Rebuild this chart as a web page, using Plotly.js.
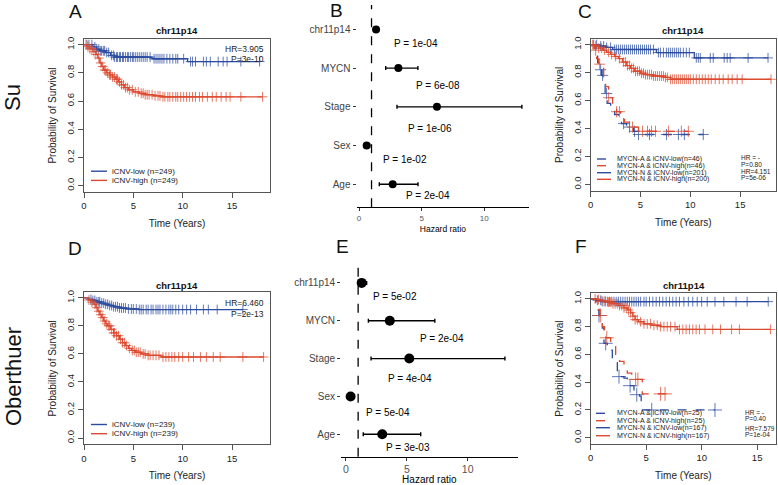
<!DOCTYPE html>
<html>
<head>
<meta charset="utf-8">
<script src="https://cdn.plot.ly/plotly-3.0.1.min.js"></script>
<style>
  html, body { margin: 0; padding: 0; background: #fff; }
  #plot { width: 778px; height: 485px; }
</style>
</head>
<body>
<div id="plot"></div>
<script>
// ---- Kaplan-Meier curves: step times / survival, plus censoring times ----
// panel A (Su)
const aLowT = [0, 0.9, 1.3, 1.6, 2.2, 2.7, 3.1, 6.9, 10.5];
const aLowS = [1, 0.984, 0.968, 0.956, 0.944, 0.924, 0.912, 0.9, 0.88];
const aLowCens = [0.3,0.5,0.8,1.1,1.3,1.5,1.7,1.8,2.0,2.1,2.3,2.5,2.8,3.0,3.1,3.3,3.4,3.6,3.7,3.9,4.0,4.2,4.4,4.5,4.7,4.9,5.0,5.2,5.4,5.6,5.8,6.0,6.2,6.4,6.7,7.1,7.3,7.5,7.7,7.9,8.1,8.4,8.7,9.0,9.3,9.5,10.1,10.8,11.0,11.3,12.1,12.4,12.8,13.6,14.1,14.5,15.9,17.8];
const aHighT = [0, 0.3, 0.6, 0.9, 1.2, 1.4, 1.6, 1.8, 2.0, 2.3, 2.6, 2.9, 3.2, 3.5, 3.8, 4.1, 4.5, 5.0, 5.6, 6.2, 7.0, 7.8];
const aHighS = [1, 0.985, 0.97, 0.95, 0.93, 0.905, 0.87, 0.845, 0.82, 0.8, 0.785, 0.77, 0.755, 0.735, 0.715, 0.695, 0.68, 0.665, 0.655, 0.645, 0.637, 0.63];
const aHighCens = [0.2,0.4,0.6,0.8,1.0,1.2,1.5,1.7,1.9,2.1,2.2,2.4,2.6,2.7,2.9,3.1,3.3,3.4,3.6,3.8,4.0,4.2,4.4,4.6,4.9,5.2,5.5,5.8,6.0,6.2,6.4,6.6,6.9,7.2,7.5,7.7,8.0,8.2,8.5,8.7,9.0,9.3,9.5,9.8,10.1,10.4,10.7,11.0,11.3,11.7,12.0,12.5,13.0,13.4,13.9,14.4,14.8,15.9,18.1];

// panel C (Su, split by MYCN)
const cALowT = [0, 0.5, 0.7, 0.9, 1.1, 1.25, 1.45, 1.65, 2.0, 2.4, 2.8, 3.1, 3.6, 4.3, 4.8];
const cALowS = [1, 0.935, 0.87, 0.82, 0.78, 0.74, 0.65, 0.58, 0.545, 0.5, 0.465, 0.435, 0.41, 0.38, 0.357];
const cALowCens = [1.0, 1.2, 1.6, 3.3, 3.9, 4.4, 4.8, 5.9, 7.6, 8.8, 9.4, 11.3];
const cAHighT = [0, 0.4, 0.6, 0.8, 1.0, 1.3, 1.5, 1.8, 2.2, 2.6, 3.0, 3.4, 4.0, 4.8];
const cAHighS = [1, 0.96, 0.9, 0.86, 0.83, 0.77, 0.7, 0.62, 0.57, 0.52, 0.48, 0.445, 0.41, 0.38];
const cAHighCens = [0.5, 0.9, 1.8, 2.6, 2.9, 4.2, 5.2, 5.7, 6.1, 6.5, 7.8, 9.1, 9.8];
const cNLowT = [0, 0.8, 1.5, 2.2, 6.6, 10.4];
const cNLowS = [1, 0.99, 0.98, 0.965, 0.943, 0.905];
const cNLowCens = [0.3,0.6,1.0,1.3,1.6,2.0,2.4,2.6,2.8,3.0,3.2,3.4,3.6,3.8,4.0,4.2,4.4,4.6,4.8,5.0,5.2,5.4,5.6,5.8,6.0,6.3,6.8,7.0,7.3,7.6,7.8,8.0,8.2,8.4,8.6,8.8,9.0,9.3,9.6,9.9,10.6,10.8,11.0,12.0,12.3,13.4,13.7,14.0,15.8,17.8];
const cNHighT = [0, 0.4, 0.8, 1.2, 1.6, 2.0, 2.4, 2.8, 3.2, 3.6, 4.0, 4.4, 5.0, 5.5, 6.2, 7.5, 8.0];
const cNHighS = [1, 0.99, 0.975, 0.96, 0.945, 0.93, 0.915, 0.9, 0.875, 0.85, 0.83, 0.81, 0.795, 0.785, 0.775, 0.765, 0.752];
const cNHighCens = [0.2,0.5,0.8,1.1,1.4,1.8,2.1,2.5,2.9,3.3,3.5,3.7,3.9,4.1,4.3,4.5,4.7,4.9,5.1,5.3,5.5,5.7,5.9,6.1,6.3,6.5,6.7,6.9,7.1,7.3,7.5,7.7,8.0,8.2,8.4,8.6,8.8,9.0,9.2,9.4,9.6,9.8,10.0,10.3,10.6,10.9,11.2,11.5,11.8,12.1,12.5,12.9,13.3,13.8,14.2,14.7,15.2,18.1];

// panel D (Oberthuer)
const dLowT = [0, 0.5, 0.9, 1.3, 1.7, 2.1, 2.5, 3.0, 3.6, 4.3, 5.5];
const dLowS = [1, 0.99, 0.982, 0.972, 0.963, 0.955, 0.946, 0.937, 0.928, 0.921, 0.917];
const dLowCens = [0.7,0.9,1.1,1.3,1.5,1.6,1.8,2.0,2.2,2.4,2.6,2.8,3.0,3.2,3.4,3.6,3.8,4.0,4.2,4.5,4.8,5.0,5.3,5.6,5.8,6.0,6.3,6.5,6.8,7.0,7.3,7.5,7.7,8.0,8.3,8.6,8.8,9.0,9.3,9.6,10.0,10.4,10.8,11.4,12.1,12.6,13.5,16.1];
const dHighT = [0, 0.4, 0.7, 1.0, 1.2, 1.4, 1.6, 1.8, 2.0, 2.2, 2.4, 2.7, 3.0, 3.3, 3.6, 3.9, 4.2, 4.5, 4.8, 5.2, 5.8, 6.5, 7.8];
const dHighS = [1, 0.985, 0.97, 0.955, 0.93, 0.905, 0.88, 0.86, 0.835, 0.815, 0.8, 0.775, 0.75, 0.73, 0.705, 0.68, 0.66, 0.64, 0.625, 0.612, 0.6, 0.59, 0.578];
const dHighCens = [0.5,0.8,1.1,1.3,1.5,1.7,1.9,2.1,2.3,2.5,2.6,2.8,3.0,3.1,3.3,3.5,3.7,3.9,4.1,4.3,4.6,4.9,5.1,5.3,5.5,5.7,6.0,6.2,6.5,6.7,7.0,7.3,7.6,8.0,8.3,8.6,8.9,9.2,9.6,10.0,10.6,11.1,11.8,12.4,13.1,13.8,16.1,18.2];

// panel F (Oberthuer, split by MYCN)
const fALowT = [0, 0.45, 0.75, 1.05, 1.2, 1.5, 1.95, 2.4, 3.0, 3.3, 3.9, 4.4, 4.55, 4.65];
const fALowS = [1, 0.92, 0.88, 0.79, 0.68, 0.63, 0.54, 0.44, 0.43, 0.375, 0.31, 0.30, 0.24, 0.2];
const fALowCens = [0.75, 1.35, 2.55, 3.55, 4.15, 5.5, 11.2];
const fAHighT = [0, 0.5, 0.7, 0.85, 1.05, 1.25, 1.8, 2.25, 2.6, 3.0, 3.3, 3.7, 4.65];
const fAHighS = [1, 0.96, 0.92, 0.88, 0.80, 0.72, 0.667, 0.6, 0.55, 0.5, 0.465, 0.42, 0.316];
const fAHighCens = [0.9, 1.45, 4.05, 4.25, 6.3, 6.7];
const fNLowT = [0, 0.5, 1.0];
const fNLowS = [1, 0.99, 0.98];
const fNLowCens = [0.6,0.9,1.1,1.3,1.5,1.7,1.9,2.1,2.3,2.5,2.7,2.9,3.1,3.3,3.5,3.7,3.9,4.1,4.3,4.5,4.8,5.0,5.3,5.6,5.9,6.2,6.5,6.8,7.1,7.4,7.7,8.0,8.4,8.8,9.2,9.6,10.0,10.5,11.2,12.0,13.1,14.1,16.0];
const fNHighT = [0, 0.5, 1.0, 1.5, 2.0, 2.5, 3.0, 3.3, 3.6, 3.8, 4.0, 4.3, 4.8, 5.5, 6.3, 7.8];
const fNHighS = [1, 0.995, 0.985, 0.976, 0.965, 0.952, 0.935, 0.92, 0.9, 0.875, 0.85, 0.835, 0.82, 0.81, 0.80, 0.78];
const fNHighCens = [0.4,0.7,1.0,1.3,1.6,1.8,2.0,2.2,2.4,2.6,2.8,3.0,3.2,3.4,3.6,3.8,4.0,4.2,4.5,4.8,5.1,5.4,5.7,6.0,6.3,6.6,6.9,7.2,7.6,8.0,8.3,8.6,8.9,9.2,9.5,9.8,10.3,11.0,11.7,12.7,13.4,16.2];

// ---- forest plots (hazard ratio with 95% CI) ----
const forestVars = ['chr11p14', 'MYCN', 'Stage', 'Sex', 'Age'];
const bHR = [1.36, 3.14, 6.22, 0.61, 2.69];
const bLo = [1.2, 2.13, 3.03, 0.45, 1.62];
const bHi = [1.55, 4.7, 13.0, 0.85, 4.71];
const bP = ['1e-04', '6e-08', '1e-06', '1e-02', '2e-04'];
const eHR = [1.29, 3.6, 5.2, 0.38, 2.98];
const eLo = [1.05, 1.84, 2.06, 0.22, 1.42];
const eHi = [1.7, 7.3, 13.06, 0.55, 6.14];
const eP = ['5e-02', '2e-04', '4e-04', '5e-04', '3e-03'];

const BLUE = '#2b4ca0';
const RED = '#dc4a2f';
const W = 778, H = 485;
const FONT = 'Liberation Sans, Arial, Helvetica, sans-serif';

function xdom(a, b) { return [a / W, b / W]; }
function ydom(top, bottom) { return [1 - bottom / H, 1 - top / H]; }

function survAt(times, surv, t) {
  let s = surv[0];
  for (let i = 0; i < times.length; i++) {
    if (times[i] <= t) s = surv[i];
  }
  return s;
}

let traces = [];
function km(times, surv, cens, color, dash, n, markSize) {
  const tEnd = Math.max.apply(null, cens);
  traces.push({
    x: times.concat([tEnd]),
    y: surv.concat([surv[surv.length - 1]]),
    xaxis: 'x' + n, yaxis: 'y' + n,
    type: 'scatter', mode: 'lines',
    line: { shape: 'hv', color: color, width: 1.3, dash: dash },
    showlegend: false, hoverinfo: 'skip'
  });
  traces.push({
    x: cens,
    y: cens.map(t => survAt(times, surv, t)),
    xaxis: 'x' + n, yaxis: 'y' + n,
    type: 'scatter', mode: 'markers',
    marker: { symbol: 'cross-thin-open', size: markSize, color: color, opacity: 0.75,
              line: { width: 1, color: color } },
    showlegend: false, hoverinfo: 'skip'
  });
}

km(aLowT, aLowS, aLowCens, BLUE, 'solid', 1, 7);
km(aHighT, aHighS, aHighCens, RED, 'solid', 1, 7);
km(cALowT, cALowS, cALowCens, BLUE, 'dash', 3, 8);
km(cAHighT, cAHighS, cAHighCens, RED, 'dash', 3, 8);
km(cNLowT, cNLowS, cNLowCens, BLUE, 'solid', 3, 7);
km(cNHighT, cNHighS, cNHighCens, RED, 'solid', 3, 7);
km(dLowT, dLowS, dLowCens, BLUE, 'solid', 4, 7);
km(dHighT, dHighS, dHighCens, RED, 'solid', 4, 7);
km(fALowT, fALowS, fALowCens, BLUE, 'dash', 6, 10);
km(fAHighT, fAHighS, fAHighCens, RED, 'dash', 6, 10);
km(fNLowT, fNLowS, fNLowCens, BLUE, 'solid', 6, 7);
km(fNHighT, fNHighS, fNHighCens, RED, 'solid', 6, 7);

function forest(hr, lo, hi, n, size) {
  traces.push({
    x: hr, y: forestVars,
    xaxis: 'x' + n, yaxis: 'y' + n,
    type: 'scatter', mode: 'markers',
    marker: { color: '#000', size: size },
    error_x: {
      type: 'data', symmetric: false,
      array: hi.map((v, i) => v - hr[i]),
      arrayminus: lo.map((v, i) => hr[i] - v),
      color: '#000', thickness: 1.4, width: 2
    },
    showlegend: false, hoverinfo: 'skip'
  });
}
forest(bHR, bLo, bHi, 2, 8);
forest(eHR, eLo, eHi, 5, 10);

function kmX(dom, maxT) {
  return {
    domain: dom, range: [0, maxT], tickvals: [0, 5, 10, 15],
    showline: true, mirror: true, linecolor: '#555', linewidth: 1,
    ticks: 'outside', ticklen: 5, tickcolor: '#555',
    showgrid: false, zeroline: false,
    tickfont: { size: 9.5, color: '#222' },
    title: { text: 'Time (Years)', font: { size: 10, color: '#222' }, standoff: 9 }
  };
}
function kmY(dom) {
  return {
    domain: dom, range: [-0.045, 1.04],
    tickvals: [0, 0.2, 0.4, 0.6, 0.8, 1.0], ticktext: ['0.0', '0.2', '0.4', '0.6', '0.8', '1.0'],
    tickangle: -90,
    showline: true, mirror: true, linecolor: '#555', linewidth: 1,
    ticks: 'outside', ticklen: 5, tickcolor: '#555',
    showgrid: false, zeroline: false,
    tickfont: { size: 9.5, color: '#222' },
    title: { text: 'Probability of Survival', font: { size: 10, color: '#222' }, standoff: 6 }
  };
}
function fX(dom, range, tickSize, titleSize, standoff) {
  return {
    domain: dom, range: range, tickvals: [0, 5, 10],
    showline: true, linecolor: '#000', linewidth: 1,
    ticks: 'outside', ticklen: 3, tickcolor: '#333',
    showgrid: false, zeroline: false,
    tickfont: { size: tickSize, color: '#555' },
    title: { text: 'Hazard ratio', font: { size: titleSize, color: '#000' }, standoff: standoff }
  };
}
function fY(dom, range) {
  return {
    domain: dom, range: range, type: 'category',
    categoryarray: forestVars.slice().reverse(),
    showline: false, ticks: 'outside', ticklen: 3, tickcolor: '#333',
    showgrid: false, zeroline: false,
    tickfont: { size: 10, color: '#444' }
  };
}

const layout = {
  width: W, height: H,
  margin: { l: 0, r: 0, t: 0, b: 0 },
  paper_bgcolor: '#fff', plot_bgcolor: 'rgba(0,0,0,0)',
  font: { family: FONT, color: '#222' },
  showlegend: false,
  xaxis: Object.assign(kmX(xdom(84, 270), 18.85), { anchor: 'y' }),
  yaxis: Object.assign(kmY(ydom(39, 192)), { anchor: 'x' }),
  xaxis2: Object.assign(fX(xdom(356.5, 529.4), [-0.2, 13.6], 8, 8.5, 4), { anchor: 'y2' }),
  yaxis2: Object.assign(fY(ydom(5, 207.3), [-0.594, 4.63]), { anchor: 'x2' }),
  xaxis3: Object.assign(kmX(xdom(590.7, 776), 18.6), { anchor: 'y3' }),
  yaxis3: Object.assign(kmY(ydom(39, 190.7)), { anchor: 'x3' }),
  xaxis4: Object.assign(kmX(xdom(84, 270), 18.85), { anchor: 'y4' }),
  yaxis4: Object.assign(kmY(ydom(292.3, 444.3)), { anchor: 'x4' }),
  xaxis5: Object.assign(fX(xdom(341.1, 517.6), [-0.4, 14.1], 10.5, 10, 1), { anchor: 'y5' }),
  yaxis5: Object.assign(fY(ydom(261.7, 456.7), [-0.593, 4.56]), { anchor: 'x5' }),
  xaxis6: Object.assign(kmX(xdom(590.7, 776), 16.7), { anchor: 'y6' }),
  yaxis6: Object.assign(kmY(ydom(293.3, 444)), { anchor: 'x6' }),
  shapes: [],
  annotations: []
};

// dashed reference line at HR = 1
[2, 5].forEach(n => {
  layout.shapes.push({
    type: 'line', xref: 'x' + n, yref: 'y' + n + ' domain',
    x0: 1, x1: 1, y0: 0, y1: 1,
    line: { color: '#000', width: 1.3, dash: 'dash' }
  });
});

function px(x, y, text, opts) {
  layout.annotations.push(Object.assign({
    xref: 'paper', yref: 'paper', x: x / W, y: 1 - y / H,
    xanchor: 'center', yanchor: 'middle',
    text: text, showarrow: false, font: { size: 10, color: '#000' }
  }, opts || {}));
}

// panel letters and cohort labels
const letters = [['A', 75, 11], ['B', 336, 10], ['C', 585, 11], ['D', 75, 249], ['E', 342, 247], ['F', 581, 246]];
letters.forEach(l => px(l[1], l[2], l[0], { font: { size: 19, color: '#111' } }));
px(13, 97, 'Su', { textangle: -90, font: { size: 22, color: '#111' } });
px(13, 377, 'Oberthuer', { textangle: -90, font: { size: 22, color: '#111' } });

// KM panel titles
[[177, 30], [683, 30], [177, 285.7], [684, 285.7]].forEach(p =>
  px(p[0], p[1], '<b>chr11p14</b>', { font: { size: 9.5, color: '#111' } }));

// HR / P text in KM panels
function hrText(xr, y1, y2, hr, p, size, anchor) {
  px(xr, y1, hr, { xanchor: anchor, font: { size: size, color: '#222' } });
  px(xr, y2, p, { xanchor: anchor, font: { size: size, color: '#222' } });
}
hrText(266, 49.3, 58.7, 'HR=3.905', 'P=3e-10', 8.5, 'right');
hrText(266, 303.3, 313.5, 'HR=6.460', 'P=2e-13', 8.5, 'right');
hrText(739, 158, 164, 'HR = -', 'P=0.80', 6.5, 'left');
hrText(739, 171.5, 177.5, 'HR=4.151', 'P=5e-06', 6.5, 'left');
hrText(743, 412.5, 418.5, 'HR = -', 'P=0.40', 6.5, 'left');
hrText(743, 428, 434.5, 'HR=7.579', 'P=1e-04', 6.5, 'left');

// legends drawn as line samples + labels
function legendRow(x0, x1, tx, y, color, dash, label, size) {
  layout.shapes.push({
    type: 'line', xref: 'paper', yref: 'paper',
    x0: x0 / W, x1: x1 / W, y0: 1 - y / H, y1: 1 - y / H,
    line: { color: color, width: 1.4, dash: dash }
  });
  px(tx, y, label, { xanchor: 'left', font: { size: size, color: '#222' } });
}
legendRow(91, 107, 110, 171.2, BLUE, 'solid', 'iCNV-low (n=249)', 8);
legendRow(91, 107, 110, 180.4, RED, 'solid', 'iCNV-high (n=249)', 8);
legendRow(91, 107, 110, 424.5, BLUE, 'solid', 'iCNV-low (n=239)', 8);
legendRow(91, 107, 110, 433.7, RED, 'solid', 'iCNV-high (n=239)', 8);
const cLegend = ['MYCN-A & iCNV-low(n=46)', 'MYCN-A & iCNV-high(n=46)', 'MYCN-N & iCNV-low(n=201)', 'MYCN-N & iCNV-high(n=200)'];
const fLegend = ['MYCN-A & iCNV-low(n=25)', 'MYCN-A & iCNV-high(n=25)', 'MYCN-N & iCNV-low(n=167)', 'MYCN-N & iCNV-high(n=167)'];
const legCols = [BLUE, RED, BLUE, RED];
const legDash = ['dash', 'dash', 'solid', 'solid'];
const cRows = [159, 165.7, 172.7, 179.3];
const fRows = [413.3, 420.7, 427.7, 435.7];
cLegend.forEach((t, i) => legendRow(597, 611, 615, cRows[i], legCols[i], legDash[i], t, 7));
fLegend.forEach((t, i) => legendRow(596, 610, 615, fRows[i], legCols[i], legDash[i], t, 7));

// P values in forest plots (label anchors in hazard-ratio / row units)
const bPAnchorX = [2.61, 4.39, 3.73, 1.76, 3.62];
const bPAnchorY = [3.63, 2.54, 1.45, 0.63, -0.28];
const ePAnchorX = [2.03, 5.92, 3.29, 1.48, 3.12];
const ePAnchorY = [3.65, 2.52, 1.47, 0.57, -0.34];
bP.forEach((p, i) => layout.annotations.push({
  xref: 'x2', yref: 'y2', x: bPAnchorX[i], y: bPAnchorY[i], xanchor: 'left', yanchor: 'middle',
  text: 'P = ' + p, showarrow: false, font: { size: 10, color: '#000' }
}));
eP.forEach((p, i) => layout.annotations.push({
  xref: 'x5', yref: 'y5', x: ePAnchorX[i], y: ePAnchorY[i], xanchor: 'left', yanchor: 'middle',
  text: 'P = ' + p, showarrow: false, font: { size: 10, color: '#000' }
}));

Plotly.newPlot('plot', traces, layout, { staticPlot: true, displayModeBar: false });
</script>
</body>
</html>
